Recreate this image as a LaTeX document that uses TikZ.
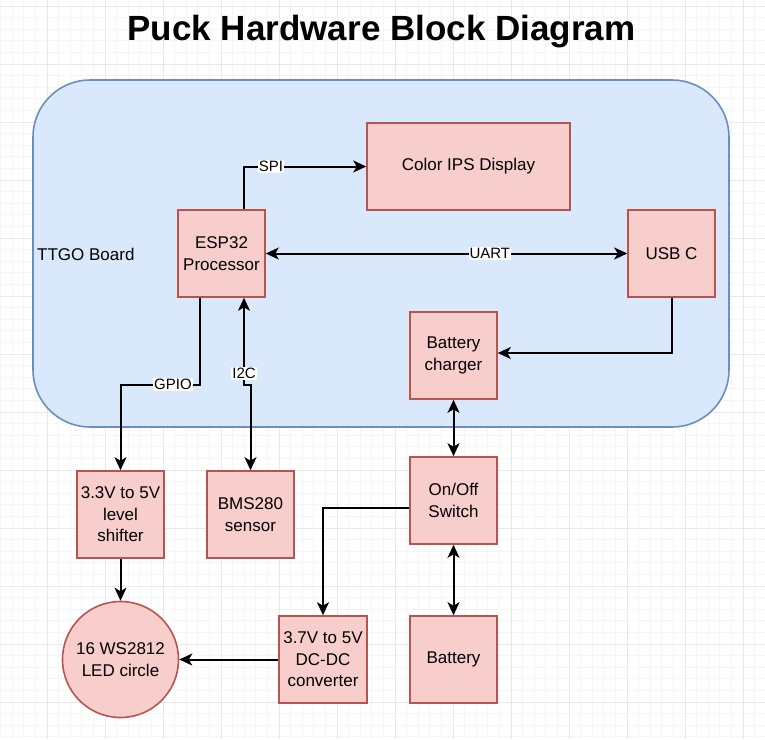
\documentclass[tikz,border=0pt]{standalone}
\usepackage{fontspec}
\setmainfont{Liberation Sans}
\usepackage{tikz}
\usetikzlibrary{arrows.meta}
\definecolor{redfill}{HTML}{F8CECC}
\definecolor{redline}{HTML}{B85450}
\definecolor{bluefill}{HTML}{DAE8FC}
\definecolor{blueline}{HTML}{6C8EBF}
\begin{document}
\begin{tikzpicture}[x=1pt,y=-1pt,
		blk/.style={draw=redline, fill=redfill, line width=1.6pt, minimum width=87pt, minimum height=87pt, align=center, inner sep=2pt, font=\fontsize{17}{21.5}\selectfont},
		lbl/.style={fill=white, inner sep=1pt, font=\fontsize{15}{17}\selectfont},
		arr/.style={-{Stealth[length=13pt,width=12pt,inset=3.5pt]}, line width=2pt},
		arrtwo/.style={{Stealth[length=13pt,width=12pt,inset=3.5pt]}-{Stealth[length=13pt,width=12pt,inset=3.5pt]}, line width=2pt}]
		\useasboundingbox (0,0) rectangle (765,739);
		\fill[white] (0,0) rectangle (765,739);
		% grid
		\begin{scope}
		\clip (0,0) rectangle (765,739);
		\foreach \i in {0,...,67} \draw[gray!8, line width=0.8pt] ({-11+11.6*\i},0) -- ({-11+11.6*\i},739);
		\foreach \j in {0,...,65} \draw[gray!8, line width=0.8pt] (0,{-5.6+11.6*\j}) -- (765,{-5.6+11.6*\j});
		\foreach \i in {0,...,13} \draw[gray!18, line width=0.8pt] ({-11+58*\i},0) -- ({-11+58*\i},739);
		\foreach \j in {0,...,12} \draw[gray!18, line width=0.8pt] (0,{6+58*\j}) -- (765,{6+58*\j});
		\end{scope}
		
		\node[font=\bfseries\fontsize{35}{40}\selectfont, anchor=base] (title) at (381.5,40) {Puck Hardware Block Diagram};
		\node[draw=blueline, fill=bluefill, line width=1.6pt, rounded corners=57pt, minimum width=696pt, minimum height=347pt] (ttgo) at (381,253.5) {};
		\node[anchor=west, inner sep=2pt, font=\fontsize{17}{21.5}\selectfont] (ttgolabel) at (35,254) {TTGO Board};
		
		\node[blk] (esp) at (221.5,253.5) {ESP32\\Processor};
		\node[blk, minimum width=203pt] (disp) at (468.5,166.5) {Color IPS Display};
		\node[blk] (usb) at (671.5,253.5) {USB C};
		\node[blk] (chg) at (453.5,355.5) {Battery\\charger};
		\node[blk] (sw) at (453.5,500.5) {On/Off\\Switch};
		\node[blk] (bat) at (453.5,659.5) {Battery};
		\node[blk] (lvl) at (120.5,514.5) {3.3V to 5V\\level\\shifter};
		\node[blk] (bms) at (250.5,514.5) {BMS280\\sensor};
		\node[blk, circle, minimum size=116pt] (led) at (120.5,659.5) {16 WS2812\\LED circle};
		\node[blk, minimum width=88pt] (dcdc) at (323,659.5) {3.7V to 5V\\DC-DC\\converter};
		
		\draw[arr] ([xshift=22.5pt]esp.north) |- node[lbl, pos=0.61]{SPI} (disp.west);
		\draw[arrtwo] (esp.east) -- node[lbl, pos=0.62]{UART} (usb.west);
		\draw[arr] (usb.south) |- ([yshift=2.5pt]chg.east);
		\draw[arrtwo] (chg.south) -- (sw.north);
		\draw[arrtwo] (sw.south) -- (bat.north);
		\draw[arr] ([yshift=-7.5pt]sw.west) -| (dcdc.north);
		\draw[arr] (dcdc.west) -- (led.east);
		\draw[arr] (lvl.south) -- (led.north);
		\draw[arr] ([xshift=-21.5pt]esp.south) -- ++(0,87) -| node[lbl, pos=0.17]{GPIO} (lvl.north);
		\draw[arrtwo] ([xshift=22.5pt]esp.south) -- node[lbl, pos=0.87]{I2C} ++(0,87) -| (bms.north);
		
		\end{tikzpicture}
\end{document}
